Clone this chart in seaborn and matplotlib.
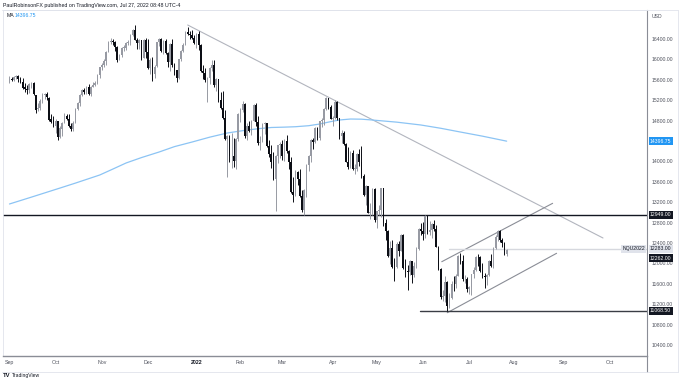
import matplotlib
matplotlib.use("Agg")
import matplotlib.pyplot as plt
from matplotlib.lines import Line2D
import numpy as np
import pandas as pd
import seaborn as sns

# NQ1! daily candles, Sep 1 2021 -> Jul 27 2022, one row per month
opens = [
    15560, 15610, 15600, 15650, 15675, 15620, 15560, 15450, 15420, 15400, 15520, 15540, 15300, 15020, 15040, 15190, 15300, 15330, 15250, 14830, 14790,
    14690, 14790, 14470, 14640, 14770, 14890, 14830, 14690, 14640, 14770, 15030, 15140, 15300, 15400, 15360, 15460, 15320, 15460, 15500, 15540, 15690,
    15850, 15900, 15970, 16150, 16350, 16370, 16340, 16240, 15990, 16080, 16230, 16230, 16330, 16330, 16480, 16570, 16390, 16320, 16380, 16030, 16390,
    16140, 15840, 15980, 15720, 15870, 16340, 16400, 16160, 16370, 16130, 15950, 16310, 15890, 15790, 15630, 16000, 16170, 16290, 16540, 16490, 16480, 16420,
    16320, 16500, 16280, 15770, 15740, 15610, 15640, 15830, 15900, 15500, 15610, 15210, 15040, 14850, 14440, 14500, 14100, 14110, 14000, 14440,
    14930, 15000, 15130, 14500, 14700, 14600, 14800, 15100, 14770, 14360, 14390, 14740, 14760, 14300, 14140, 13990, 13650, 14100, 14320,
    14350, 14110, 14400, 14200, 13990, 13400, 13340, 13800, 13660, 13320, 13050, 13440, 13930, 14100, 14420, 14380, 14650, 14450, 14790, 14820, 15030, 15240, 15070,
    14840, 14860, 15170, 14850, 14500, 14560, 14350, 13990, 13890, 14170, 13850, 13860, 14140, 13990, 13710, 13350, 13510, 12990, 13010, 13460,
    12850, 13020, 13040, 13470, 12790, 12640, 12140, 12310, 11930, 11920, 12390, 12250, 12560, 11910, 11850, 11840, 12040, 11780, 11940, 12290, 12680,
    12640, 12570, 12920, 12610, 12660, 12770, 12680, 12330, 11890, 11340, 11360, 11640, 11170, 11320, 11600, 11590, 11760, 12150, 12050, 11690, 11700,
    11500, 11530, 11790, 11870, 12130, 12120, 11860, 11750, 11740, 11780, 12040, 11940, 12310, 12520, 12640, 12460, 12400, 12180,
]
highs = [
    15680, 15660, 15680, 15700, 15690, 15660, 15640, 15530, 15500, 15530, 15560, 15560, 15310, 15140, 15230, 15340, 15350, 15360, 15260, 14930, 14900,
    14840, 14800, 14700, 14770, 14940, 14930, 14920, 14760, 14790, 15050, 15170, 15320, 15420, 15430, 15470, 15510, 15470, 15560, 15580, 15720, 15860,
    15920, 16000, 16160, 16370, 16420, 16410, 16370, 16270, 16110, 16240, 16290, 16350, 16380, 16490, 16600, 16680, 16420, 16400, 16390, 16410, 16420,
    16400, 16020, 16040, 15900, 16350, 16420, 16420, 16390, 16400, 16140, 16330, 16400, 15920, 15800, 16010, 16180, 16320, 16550, 16640, 16560, 16580, 16480,
    16520, 16560, 16310, 15890, 15840, 15660, 15850, 15990, 15980, 15640, 15620, 15370, 15380, 15010, 14510, 14510, 14560, 14450, 14460, 14940,
    15050, 15180, 15140, 14750, 14800, 14820, 15120, 15140, 14890, 14500, 14750, 14780, 14760, 14420, 14320, 14190, 14130, 14330, 14380,
    14420, 14430, 14520, 14230, 14080, 13700, 13830, 13810, 13860, 13430, 13460, 13950, 14120, 14430, 14460, 14670, 14680, 14800, 14850, 15040, 15270, 15250, 15110,
    14900, 15200, 15190, 14860, 14620, 14600, 14360, 14280, 14210, 14230, 13940, 14170, 14240, 14310, 13750, 13530, 13520, 13180, 13480, 13480,
    13030, 13140, 13480, 13480, 12880, 12660, 12430, 12450, 12110, 12420, 12430, 12580, 12580, 12080, 11960, 12060, 12050, 12020, 12330, 12690, 12800,
    12810, 12950, 12930, 12840, 12800, 12860, 12760, 12350, 11900, 11480, 11760, 11650, 11420, 11650, 11760, 11790, 12160, 12200, 12160, 11780, 11730,
    11560, 11800, 11920, 12140, 12180, 12140, 12000, 11810, 11800, 12060, 12180, 12320, 12560, 12650, 12660, 12500, 12410, 12290,
]
lows = [
    15540, 15570, 15570, 15620, 15560, 15540, 15420, 15360, 15330, 15340, 15430, 15300, 14950, 14980, 15000, 15150, 15220, 15200, 14790, 14760, 14680,
    14560, 14420, 14450, 14500, 14760, 14810, 14680, 14590, 14600, 14760, 15010, 15080, 15280, 15320, 15320, 15300, 15290, 15450, 15480, 15520, 15640,
    15800, 15860, 15900, 16140, 16300, 16290, 16170, 15950, 15980, 16050, 16170, 16190, 16290, 16280, 16460, 16380, 16210, 16200, 15990, 16020, 16030,
    15820, 15720, 15580, 15630, 15860, 16270, 16140, 16110, 16110, 15850, 15780, 15850, 15690, 15560, 15620, 15960, 16150, 16280, 16470, 16410, 16410, 16310,
    16230, 16190, 15760, 15620, 15560, 15160, 15520, 15780, 15460, 15380, 15170, 15020, 14840, 14420, 13700, 13980, 13880, 13900, 13850, 14400,
    14780, 14960, 14450, 14420, 14570, 14520, 14790, 14700, 14320, 14220, 14380, 14530, 14280, 14080, 13870, 13640, 13020, 13970, 14060,
    14030, 14000, 14160, 13860, 13390, 13200, 13330, 13530, 13300, 13010, 12940, 13300, 13820, 13990, 14250, 14360, 14420, 14420, 14680, 14720, 15010, 15020, 14840,
    14700, 14830, 14820, 14440, 14360, 14330, 13980, 13850, 13880, 13840, 13760, 13810, 13910, 13670, 13330, 13140, 12980, 12870, 12950, 12820,
    12700, 12940, 12900, 12740, 12460, 12120, 11980, 11900, 11660, 11910, 12150, 12240, 11890, 11730, 11470, 11780, 11620, 11730, 11900, 12270, 12560,
    12460, 12500, 12570, 12560, 12490, 12640, 12320, 11870, 11300, 11260, 11250, 11068.5, 11120, 11300, 11460, 11520, 11750, 11980, 11660, 11610, 11440,
    11400, 11380, 11710, 11850, 11940, 11840, 11720, 11510, 11570, 11760, 11920, 11900, 12280, 12430, 12420, 12320, 12160, 12150,
]
closes = [
    15610, 15600, 15650, 15675, 15620, 15550, 15440, 15420, 15400, 15520, 15540, 15330, 15000, 15040, 15180, 15310, 15330, 15260, 14820, 14780, 14690,
    14800, 14470, 14660, 14760, 14890, 14830, 14690, 14640, 14760, 15030, 15150, 15300, 15400, 15370, 15460, 15320, 15460, 15500, 15540, 15700, 15850,
    15900, 15970, 16150, 16350, 16370, 16340, 16240, 15990, 16080, 16230, 16230, 16330, 16330, 16480, 16570, 16390, 16320, 16390, 16030, 16390, 16140,
    15840, 15980, 15720, 15860, 16340, 16400, 16160, 16370, 16130, 15950, 16310, 15890, 15790, 15630, 16000, 16170, 16290, 16540, 16490, 16480, 16420, 16320,
    16500, 16280, 15770, 15740, 15600, 15640, 15830, 15900, 15500, 15610, 15210, 15040, 14850, 14440, 14500, 14100, 14110, 14000, 14440, 14930,
    15000, 15130, 14500, 14700, 14600, 14800, 15100, 14770, 14360, 14390, 14740, 14760, 14300, 14140, 13990, 13650, 14100, 14320, 14350,
    14110, 14400, 14200, 13990, 13400, 13340, 13800, 13660, 13320, 13050, 13440, 13930, 14100, 14420, 14380, 14650, 14450, 14790, 14820, 15030, 15240, 15070, 14840,
    14860, 15170, 14850, 14500, 14560, 14350, 13990, 13890, 14170, 13850, 13860, 14140, 13990, 13710, 13350, 13510, 12990, 13010, 13460, 12850,
    13020, 13040, 13470, 12790, 12640, 12140, 12310, 11930, 11920, 12390, 12250, 12560, 11910, 11850, 11840, 12040, 11780, 11940, 12290, 12680, 12640,
    12570, 12920, 12610, 12660, 12770, 12680, 12330, 11890, 11340, 11360, 11640, 11170, 11320, 11600, 11590, 11760, 12150, 12050, 11690, 11700, 11500,
    11530, 11790, 11870, 12130, 12120, 11860, 11750, 11740, 11780, 12040, 11940, 12310, 12520, 12640, 12460, 12400, 12180, 12262,
]

# 200-day moving average, sampled at bar numbers
ma_bar = [0, 10, 23, 30, 41, 47, 53, 60, 68, 75, 83, 91, 99, 108, 114, 119, 125, 130,
          136, 141, 146, 150, 155, 160, 164, 168, 176, 187, 196, 205, 215, 226]
ma_value = [13165, 13300, 13478, 13575, 13733, 13850, 13969, 14075, 14184, 14290, 14380,
            14475, 14557, 14616, 14645, 14665, 14672, 14680, 14700, 14733, 14780, 14812,
            14831, 14828, 14815, 14800, 14770, 14714, 14650, 14576, 14495, 14397]

# drawn lines (bar number, price)
trend_down = ([81, 269.8], [16675, 12498])
channel_top = ([196.5, 246.9], [12033, 13178])
channel_bottom = ([199.0, 248.7], [11033, 12198])
resistance = 12949.00
support = 11068.50
support_start = 186.6
contract_close = 12283.00
contract_start = 200
last_price = 12262.00
ma_last = 14396.75

price_ticks = [10400, 10800, 11200, 11600, 12000, 12400, 12800, 13200, 13600, 14000,
               14800, 15200, 15600, 16000, 16400]

holidays = ["2021-09-06", "2021-11-25", "2021-12-24", "2022-01-17", "2022-02-21",
            "2022-04-15", "2022-05-30", "2022-06-20", "2022-07-04", "2022-09-05"]

# sessions incl. future space on the time axis
days = pd.bdate_range("2021-09-01", "2022-10-31")
days = days[~days.isin(pd.to_datetime(holidays))]
month_pos = []
month_lab = []
for m, grp in pd.Series(np.arange(len(days)), index=days).groupby([days.year, days.month]):
    month_pos.append(grp.iloc[0])
    month_lab.append("2022" if m == (2022, 1) else grp.index[0].strftime("%b"))

sns.set_style("white")
plt.rcParams["font.family"] = ["Liberation Sans", "DejaVu Sans"]

UP = "#979aa3"
DOWN = "#0c0e15"
AXIS_TXT = "#50535e"

fig = plt.figure(figsize=(6.8, 3.8), dpi=100)
ax = fig.add_axes([3 / 680, 24 / 380, 644 / 680, 346 / 380])

o = np.array(opens, dtype=float)
h = np.array(highs, dtype=float)
l = np.array(lows, dtype=float)
c = np.array(closes, dtype=float)
bars = np.arange(len(c))
colors = np.where(c >= o, UP, DOWN)

ax.vlines(bars, l, h, colors=colors, linewidth=0.7, zorder=3)
ax.bar(bars, np.maximum(np.abs(c - o), 12), bottom=np.minimum(o, c), width=0.85,
       color=colors, linewidth=0, zorder=4)

sns.lineplot(x=ma_bar, y=ma_value, ax=ax, color="#8cc4f4", linewidth=0.9, zorder=2)

# drawings
ax.plot(*trend_down, color="#b2b5be", linewidth=0.8, zorder=1)
ax.plot(*channel_top, color="#8a8d96", linewidth=0.8, zorder=1)
ax.plot(*channel_bottom, color="#8a8d96", linewidth=0.8, zorder=1)
ax.axhline(resistance, color="#131722", linewidth=1.0, zorder=1)
ax.plot([support_start, 300], [support, support], color="#3a3d45", linewidth=1.0, zorder=1)
ax.plot([contract_start, 300], [contract_close, contract_close], color="#d6d8de",
        linewidth=1.0, zorder=1)

ax.set_xlim(-2.95, 289.8)
ax.set_ylim(10184, 16969)

ax.yaxis.tick_right()
ax.set_yticks(price_ticks)
ax.set_yticklabels([f"{v:.2f}" for v in price_ticks])
ax.set_xticks(month_pos)
ax.set_xticklabels(month_lab)
ax.tick_params(axis="y", length=0, pad=3.2, labelsize=3.7, colors=AXIS_TXT)
ax.tick_params(axis="x", length=0, pad=3.0, labelsize=3.8, colors=AXIS_TXT)
for t in ax.get_xticklabels():
    if t.get_text() == "2022":
        t.set_fontweight("bold")
        t.set_color("#131722")

for side in ["left", "top"]:
    ax.spines[side].set_color("#e0e3eb")
    ax.spines[side].set_linewidth(0.6)
ax.spines["right"].set_color("#8a8d96")
ax.spines["right"].set_linewidth(0.8)
ax.spines["bottom"].set_color("#8a8d96")
ax.spines["bottom"].set_linewidth(1.0)


def price_tag(price, text, fc, tc, dy=0.0):
    ax.annotate(text, xy=(1, price), xycoords=ax.get_yaxis_transform(),
                xytext=(2.2, dy), textcoords="offset points", fontsize=3.7,
                color=tc, va="center", ha="left", annotation_clip=False, zorder=6,
                bbox=dict(boxstyle="square,pad=0.3", fc=fc, ec="none"))


price_tag(ma_last, f"{ma_last:.2f}", "#2196f3", "white")
price_tag(resistance, f"{resistance:.2f}", "#131722", "white")
price_tag(contract_close, f"{contract_close:.2f}", "#e0e3eb", "#131722")
price_tag(last_price, f"{last_price:.2f}", "#131722", "white", dy=-5.8)
price_tag(support, f"{support:.2f}", "#131722", "white")
ax.annotate("NQU2022", xy=(1, contract_close), xycoords=ax.get_yaxis_transform(),
            xytext=(-1.5, 0), textcoords="offset points", fontsize=3.7, color="#131722",
            va="center", ha="right", zorder=6,
            bbox=dict(boxstyle="square,pad=0.3", fc="#e0e3eb", ec="none"))

# frame lines outside the axes
fig.add_artist(Line2D([647 / 680, 647 / 680], [8 / 380, 24 / 380], color="#8a8d96", lw=0.8))
fig.add_artist(Line2D([2 / 680, 678 / 680], [8 / 380, 8 / 380], color="#e0e3eb", lw=0.6))
fig.add_artist(Line2D([2 / 680, 678 / 680], [370 / 380, 370 / 380], color="#e0e3eb", lw=0.6))
fig.add_artist(Line2D([678 / 680, 678 / 680], [8 / 380, 370 / 380], color="#e0e3eb", lw=0.6))

fig.text(3 / 680, 1 - 5 / 380, "PaulRobinsonFX published on TradingView.com, Jul 27, 2022 08:48 UTC-4",
         fontsize=3.8, color="#131722", va="center")
fig.text(7 / 680, 1 - 15.5 / 380, "MA", fontsize=3.7, color="#131722", va="center")
fig.text(15 / 680, 1 - 15.5 / 380, f"{ma_last:.2f}", fontsize=3.7, color="#2196f3", va="center")
fig.text(652 / 680, 1 - 17 / 380, "USD", fontsize=3.7, color=AXIS_TXT, va="center")
fig.text(3 / 680, 1 - 375.5 / 380, "TV", fontsize=4.2, color="#131722", va="center", fontweight="bold")
fig.text(12 / 680, 1 - 375.5 / 380, "TradingView", fontsize=3.6, color="#131722", va="center")

fig.savefig("out.png", dpi=100)
